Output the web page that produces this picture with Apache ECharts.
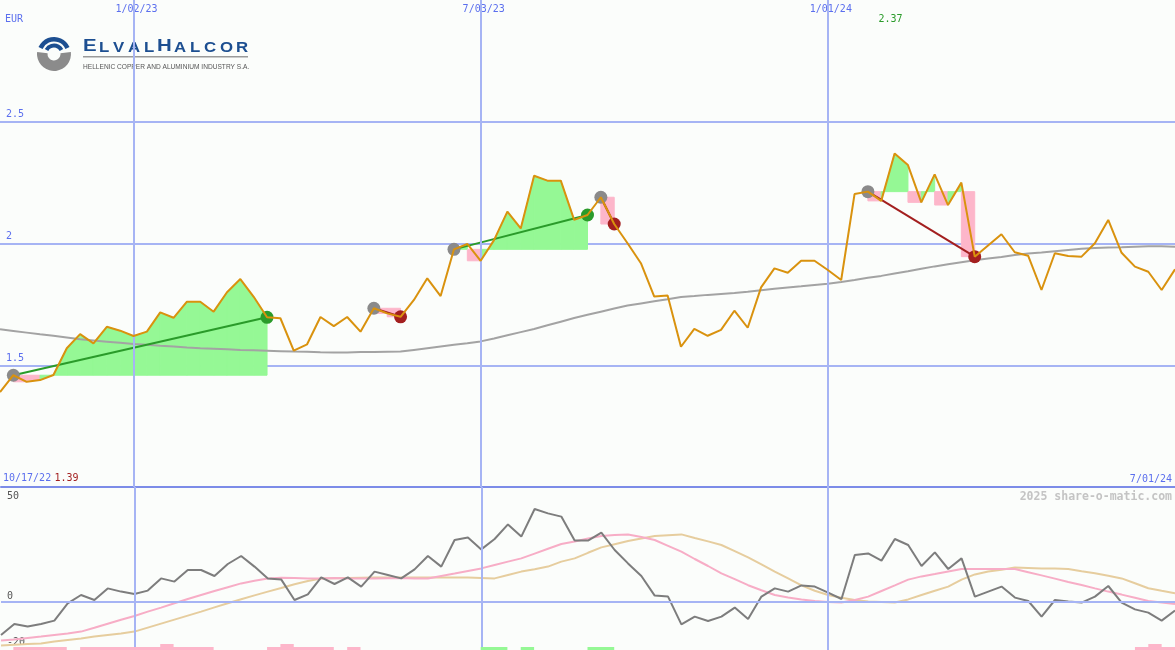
<!DOCTYPE html>
<html><head><meta charset="utf-8"><title>ElvalHalcor</title>
<script src="https://cdn.jsdelivr.net/npm/echarts@6.0.0/dist/echarts.min.js"></script>
<style>html,body{margin:0;padding:0;background:#fbfdfb;}#chart{width:1175px;height:650px;}</style>
</head><body><div id="chart"></div>
<script>
// ---------- data ----------
const currency = 'EUR';
const startLabel = '10/17/22';
const endLabel = '7/01/24';
const tickIdx = [10, 36, 62];
const tickText = ['1/02/23', '7/03/23', '1/01/24'];
const oscTicks = [-20, 0, 50];
const price = [1.39,1.459,1.432,1.439,1.460,1.570,1.628,1.590,1.658,1.642,
  1.620,1.638,1.717,1.695,1.761,1.761,1.720,1.800,1.854,1.781,
  1.697,1.693,1.560,1.586,1.698,1.661,1.698,1.638,1.734,1.713,
  1.699,1.768,1.857,1.784,1.976,1.998,1.929,2.014,2.131,2.062,
  2.278,2.258,2.258,2.097,2.117,2.190,2.080,2.001,1.919,1.782,
  1.786,1.576,1.649,1.621,1.645,1.724,1.654,1.820,1.898,1.880,
  1.929,1.929,1.891,1.850,2.203,2.213,2.175,2.370,2.322,2.169,
  2.284,2.158,2.250,1.946,1.992,2.038,1.964,1.950,1.809,1.960,
  1.949,1.946,2.001,2.097,1.962,1.905,1.884,1.809,1.894];
const priceMA = [1.648,1.641,1.634,1.627,1.621,1.614,1.607,1.602,1.597,1.592,
  1.587,1.584,1.580,1.577,1.573,1.570,1.568,1.566,1.563,1.562,
  1.560,1.558,1.556,1.555,1.553,1.552,1.552,1.554,1.554,1.555,
  1.556,1.563,1.570,1.577,1.584,1.590,1.598,1.610,1.623,1.636,
  1.649,1.664,1.679,1.694,1.707,1.720,1.733,1.745,1.754,1.763,
  1.771,1.780,1.784,1.789,1.793,1.797,1.802,1.808,1.814,1.819,
  1.824,1.830,1.835,1.842,1.850,1.859,1.867,1.877,1.886,1.896,
  1.906,1.915,1.923,1.931,1.938,1.945,1.953,1.959,1.963,1.968,
  1.973,1.978,1.982,1.984,1.985,1.987,1.989,1.989,1.987];
const osc = [-16.5,-11,-12.3,-11,-9.3,-0.7,3.5,1,6.8,5.2,
  4,5.7,11.8,10.2,16,16,13,19,23,17.7,
  11.8,11.3,1,3.8,12.3,9,12.3,7.7,15.2,13.5,
  11.8,16.3,23,17.7,31,32.2,26.3,31.5,38.8,32.7,
  46.5,44.3,42.7,30.7,30.7,34.7,26,19.3,13,3.2,
  2.7,-11.2,-7.3,-9.5,-7.3,-2.8,-8.5,2.7,6.8,5.2,
  8.3,7.7,4.7,1.5,23.5,24.3,20.7,31.5,28.5,18,
  24.8,16.5,21.8,2.7,5.2,7.7,2.2,0.5,-7.3,1,
  0.2,-0.3,2.7,8,-0.3,-3.7,-5.3,-9.3,-4.3];
const oscSignal = [-19.3,-18.7,-18,-17.3,-16.5,-15.7,-14.8,-12.9,-10.9,-8.9,
  -7,-4.8,-2.8,-0.6,1.5,3.5,5.5,7.4,9.3,10.6,
  11.8,12.1,12,11.7,11.8,12,11.8,11.7,11.8,11.9,
  12,11.8,11.8,13,14.2,15.5,16.8,18.5,20.2,21.8,
  24.2,26.6,29,30.3,31.7,33,33.5,33.8,32.5,31,
  28.1,25.2,21.5,18,14.3,11.4,8.4,5.9,3.5,2.3,
  1.2,0.5,0,-0.3,1,2.7,5.5,8.3,11.2,12.8,
  14,15.3,16.5,16.5,16.5,16.5,16.5,14.9,13.3,11.7,
  10,8.5,6.8,5.2,3.7,2.1,0.5,-0.3,-1];
const oscSlow = [-21.8,-21.4,-21,-20.7,-19.8,-19,-18.2,-17.3,-16.5,-15.7,
  -14.8,-12.8,-10.8,-8.8,-6.8,-4.8,-2.7,-0.6,1.4,3.3,
  5.2,7,8.9,10.5,11.8,11.9,12,12.1,12.2,12.3,
  12.3,12.2,12.2,12.2,12.2,12.2,12,11.8,13.5,15.2,
  16.4,17.7,20.2,21.8,24.6,27.3,28.9,30.5,31.8,33,
  33.4,33.8,32,30.3,28.5,25.4,22.3,18.8,15.2,11.8,
  8.3,5.6,3.5,2.1,1,0.2,0,-0.2,1.3,3.5,
  5.6,7.7,11.2,13.8,15.2,16.1,17.2,17,16.8,16.7,
  16.5,15.4,14.4,13.1,11.8,9.4,6.9,5.6,4.4];
// trades: [entry index, exit index]
const trades = [[1,20],[28,30],[34,44],[45,46],[65,73]];
// signal strips: [from index, to index, level]
const pinkBars = [[1,5,1],[6,16,1],[12,13,2],[20,25,1],[21,22,2],[26,27,1],[85,88,1],[86,87,2]];
const greenBars = [[36,38,1],[39,40,1],[44,46,1]];
const watermark = '2025 share-o-matic.com';
const logoLetters = ['E','L','V','A','L','H','A','L','C','O','R'];
const logoSub = 'HELLENIC COPPER AND ALUMINIUM INDUSTRY S.A.';

// ---------- styles ----------
const GRID = '#a6b4f4', SEP = '#7c8ce8', LABEL = '#5b6fee';
const ORANGE = '#d9920e', MA = '#a3a3a3';
const GREEN_FILL = '#95f895', PINK_FILL = '#fdb6ca';
const PROFIT = '#2a9b2a', LOSS = '#a31f1f', ENTRY = '#8a8a8a';
const OSC = '#7d7d7d', SIG = '#f7adc6', SLOW = '#e6cd9e';
const MONO = 'DejaVu Sans Mono';
const N = price.length - 1;

// ---------- derived ----------
const pts = arr => arr.map((v, i) => [i, v]);
const segs = [];
trades.forEach(([a, b]) => {
  for (let i = a; i < b; i++) segs.push([i, i + 1, price[i], price[i + 1], price[a]]);
});
const bars = pinkBars.map(b => [b[0], b[1], b[2], 0]).concat(greenBars.map(b => [b[0], b[1], b[2], 1]));
const minV = Math.min(...price), maxV = Math.max(...price), maxI = price.indexOf(maxV);

const tradeSeries = [];
trades.forEach(([a, b]) => {
  const win = price[b] > price[a];
  tradeSeries.push({
    type: 'line', xAxisIndex: 0, yAxisIndex: 0, z: 4, symbol: 'none', silent: true,
    data: [[a, price[a]], [b, price[b]]],
    lineStyle: { color: win ? PROFIT : LOSS, width: 2 }
  });
});
const markers = [];
trades.forEach(([a, b]) => {
  markers.push({ value: [a, price[a]], itemStyle: { color: ENTRY, opacity: 1 } });
  markers.push({ value: [b, price[b]], itemStyle: { color: price[b] > price[a] ? PROFIT : LOSS, opacity: 1 } });
});

const chart = echarts.init(document.getElementById('chart'), null, { renderer: 'canvas' });
const vLines = tickIdx.map(v => ({ xAxis: v }));

const option = {
  animation: false,
  backgroundColor: '#fbfdfb',
  grid: [
    { left: 0, right: 0, top: 0, height: 487 },
    { left: 0, right: 0, top: 487, height: 163 },
    { left: 0, right: 0, top: 644, height: 6 }
  ],
  xAxis: [
    { gridIndex: 0, type: 'value', min: 0, max: N, position: 'top',
      axisLine: { show: false }, axisTick: { show: false }, splitLine: { show: false },
      axisLabel: { inside: true, customValues: tickIdx, formatter: v => tickText[tickIdx.indexOf(v)],
        color: LABEL, fontFamily: MONO, fontSize: 10, margin: 4, verticalAlign: 'top', padding: [0, 0, 0, 6] } },
    { gridIndex: 1, type: 'value', min: 0, max: N, position: 'top',
      axisLine: { show: true, onZero: false, lineStyle: { color: SEP, width: 2 } },
      axisTick: { show: false }, splitLine: { show: false },
      axisLabel: { customValues: [0, N], margin: 3, padding: [0, 3, 0, 2],
        alignMinLabel: 'left', alignMaxLabel: 'right',
        formatter: v => v === 0 ? '{d|' + startLabel + '} {r|' + minV.toFixed(2) + '}' : '{d|' + endLabel + '}',
        rich: { d: { color: LABEL, fontFamily: MONO, fontSize: 10 }, r: { color: LOSS, fontFamily: MONO, fontSize: 10 } } } },
    { gridIndex: 2, type: 'value', min: 0, max: N, show: false }
  ],
  yAxis: [
    { gridIndex: 0, type: 'value', min: 1, max: 3, interval: 0.5,
      axisLine: { show: false }, axisTick: { show: false },
      splitLine: { show: true, showMinLine: false, showMaxLine: false, lineStyle: { color: GRID, width: 2 } },
      axisLabel: { inside: true, margin: 6, showMinLabel: false, showMaxLabel: false,
        color: LABEL, fontFamily: MONO, fontSize: 10, verticalAlign: 'bottom', align: 'left', padding: [0, 0, 2, 0] } },
    { gridIndex: 1, type: 'value', min: -24, max: 57.5,
      axisLine: { show: false }, axisTick: { show: false }, splitLine: { show: false },
      axisLabel: { inside: true, margin: 6, customValues: oscTicks, verticalAlign: 'middle', align: 'left',
        formatter: v => v < 0 ? '{lo|' + v + '}' : '{n|' + v + '}',
        rich: { n: { color: '#555555', fontFamily: MONO, fontSize: 10, padding: [0, 0, 12, 0] },
                lo: { color: '#555555', fontFamily: MONO, fontSize: 10, padding: [0, 0, 0, 0] } } } },
    { gridIndex: 2, type: 'value', min: 0, max: 2, show: false }
  ],
  series: [
    { type: 'custom', xAxisIndex: 0, yAxisIndex: 0, z: 1, silent: true, clip: true,
      data: segs, encode: { x: [0, 1], y: [2, 3, 4] },
      renderItem: (params, api) => {
        const x0 = api.value(0), x1 = api.value(1), p0 = api.value(2), p1 = api.value(3), e = api.value(4);
        const a = api.coord([x0, e]), b = api.coord([x1, e]);
        const c0 = api.coord([x0, p0]), c1 = api.coord([x1, p1]);
        if (p1 >= e) return { type: 'polygon', shape: { points: [a, c0, c1, b] }, style: { fill: GREEN_FILL, stroke: GREEN_FILL, lineWidth: 1 } };
        return { type: 'rect', shape: { x: a[0], y: a[1], width: b[0] - a[0], height: c1[1] - a[1] }, style: { fill: PINK_FILL, stroke: PINK_FILL, lineWidth: 1 } };
      } },
    { type: 'line', xAxisIndex: 0, yAxisIndex: 0, z: 2, data: [], silent: true,
      markLine: { silent: true, symbol: ['none', 'none'], label: { show: false }, animation: false,
        lineStyle: { color: GRID, width: 2, type: 'solid' }, data: vLines } },
    { type: 'line', xAxisIndex: 0, yAxisIndex: 0, z: 3, symbol: 'none', silent: true,
      data: pts(priceMA), lineStyle: { color: MA, width: 2 } },
    ...tradeSeries,
    { type: 'scatter', xAxisIndex: 0, yAxisIndex: 0, z: 5, symbolSize: 13, silent: true,
      itemStyle: { opacity: 1 }, data: markers },
    { type: 'line', xAxisIndex: 0, yAxisIndex: 0, z: 6, symbol: 'none', silent: true,
      data: pts(price), lineStyle: { color: ORANGE, width: 2 } },
    // lower panel
    { type: 'line', xAxisIndex: 1, yAxisIndex: 1, z: 1, data: [], silent: true,
      markLine: { silent: true, symbol: ['none', 'none'], label: { show: false }, animation: false,
        lineStyle: { color: GRID, width: 2, type: 'solid' }, data: vLines.concat([{ yAxis: 0 }]) } },
    { type: 'line', xAxisIndex: 1, yAxisIndex: 1, z: 2, symbol: 'none', silent: true,
      data: pts(oscSlow), lineStyle: { color: SLOW, width: 2 } },
    { type: 'line', xAxisIndex: 1, yAxisIndex: 1, z: 3, symbol: 'none', silent: true,
      data: pts(oscSignal), lineStyle: { color: SIG, width: 2 } },
    { type: 'line', xAxisIndex: 1, yAxisIndex: 1, z: 4, symbol: 'none', silent: true,
      data: pts(osc), lineStyle: { color: OSC, width: 2 } },
    { type: 'custom', xAxisIndex: 2, yAxisIndex: 2, z: 5, silent: true,
      data: bars, encode: { x: [0, 1], y: 2 },
      renderItem: (params, api) => {
        const p0 = api.coord([api.value(0), 0]), p1 = api.coord([api.value(1), api.value(2)]);
        return { type: 'rect', shape: { x: p0[0], y: p1[1], width: p1[0] - p0[0], height: p0[1] - p1[1] },
          style: { fill: api.value(3) ? GREEN_FILL : PINK_FILL } };
      } }
  ]
};
chart.setOption(option);

// ---------- text and logo ----------
const maxX = chart.convertToPixel({ xAxisIndex: 0 }, maxI);
const letterX = [83, 99, 113, 128, 144, 157, 174, 190, 204, 220, 236];
const letterEls = logoLetters.map((ch, k) => {
  const big = k === 0 || k === 5;
  return { type: 'text', x: letterX[k], y: big ? 38 : 41, scaleX: 1.2,
    style: { text: ch, fill: '#1d4f91', fontFamily: 'Liberation Sans', fontWeight: 'bold', fontSize: big ? 17 : 14 } };
});
chart.setOption({
  graphic: [
    { type: 'text', x: 5, y: 14, style: { text: currency, fill: LABEL, font: '10px "' + MONO + '"' } },
    { type: 'text', x: maxX - 4, y: 14, style: { text: maxV.toFixed(2), fill: PROFIT, font: '10px "' + MONO + '"', align: 'center' } },
    { type: 'text', x: 1172, y: 491, style: { text: watermark, fill: '#c4c4c4', font: 'bold 11.5px "' + MONO + '"', align: 'right' } },
    { type: 'sector', shape: { cx: 54, cy: 54, r: 17, r0: 6.5, startAngle: -0.12, endAngle: Math.PI + 0.12 }, style: { fill: '#8b8b8b' } },
    { type: 'sector', shape: { cx: 54, cy: 54, r: 17, r0: 12.5, startAngle: Math.PI + 0.42, endAngle: 2 * Math.PI - 0.42 }, style: { fill: '#1d4f91' } },
    { type: 'sector', shape: { cx: 54, cy: 54, r: 10.5, r0: 6.5, startAngle: Math.PI + 0.5, endAngle: 2 * Math.PI - 0.5 }, style: { fill: '#1d4f91' } },
    ...letterEls,
    { type: 'rect', shape: { x: 83, y: 56, width: 165, height: 1.5 }, style: { fill: '#9a9a9a' } },
    { type: 'text', x: 83, y: 63.5, style: { text: logoSub, fill: '#555555', font: '6.6px "Liberation Sans"' } }
  ]
});
</script></body></html>
